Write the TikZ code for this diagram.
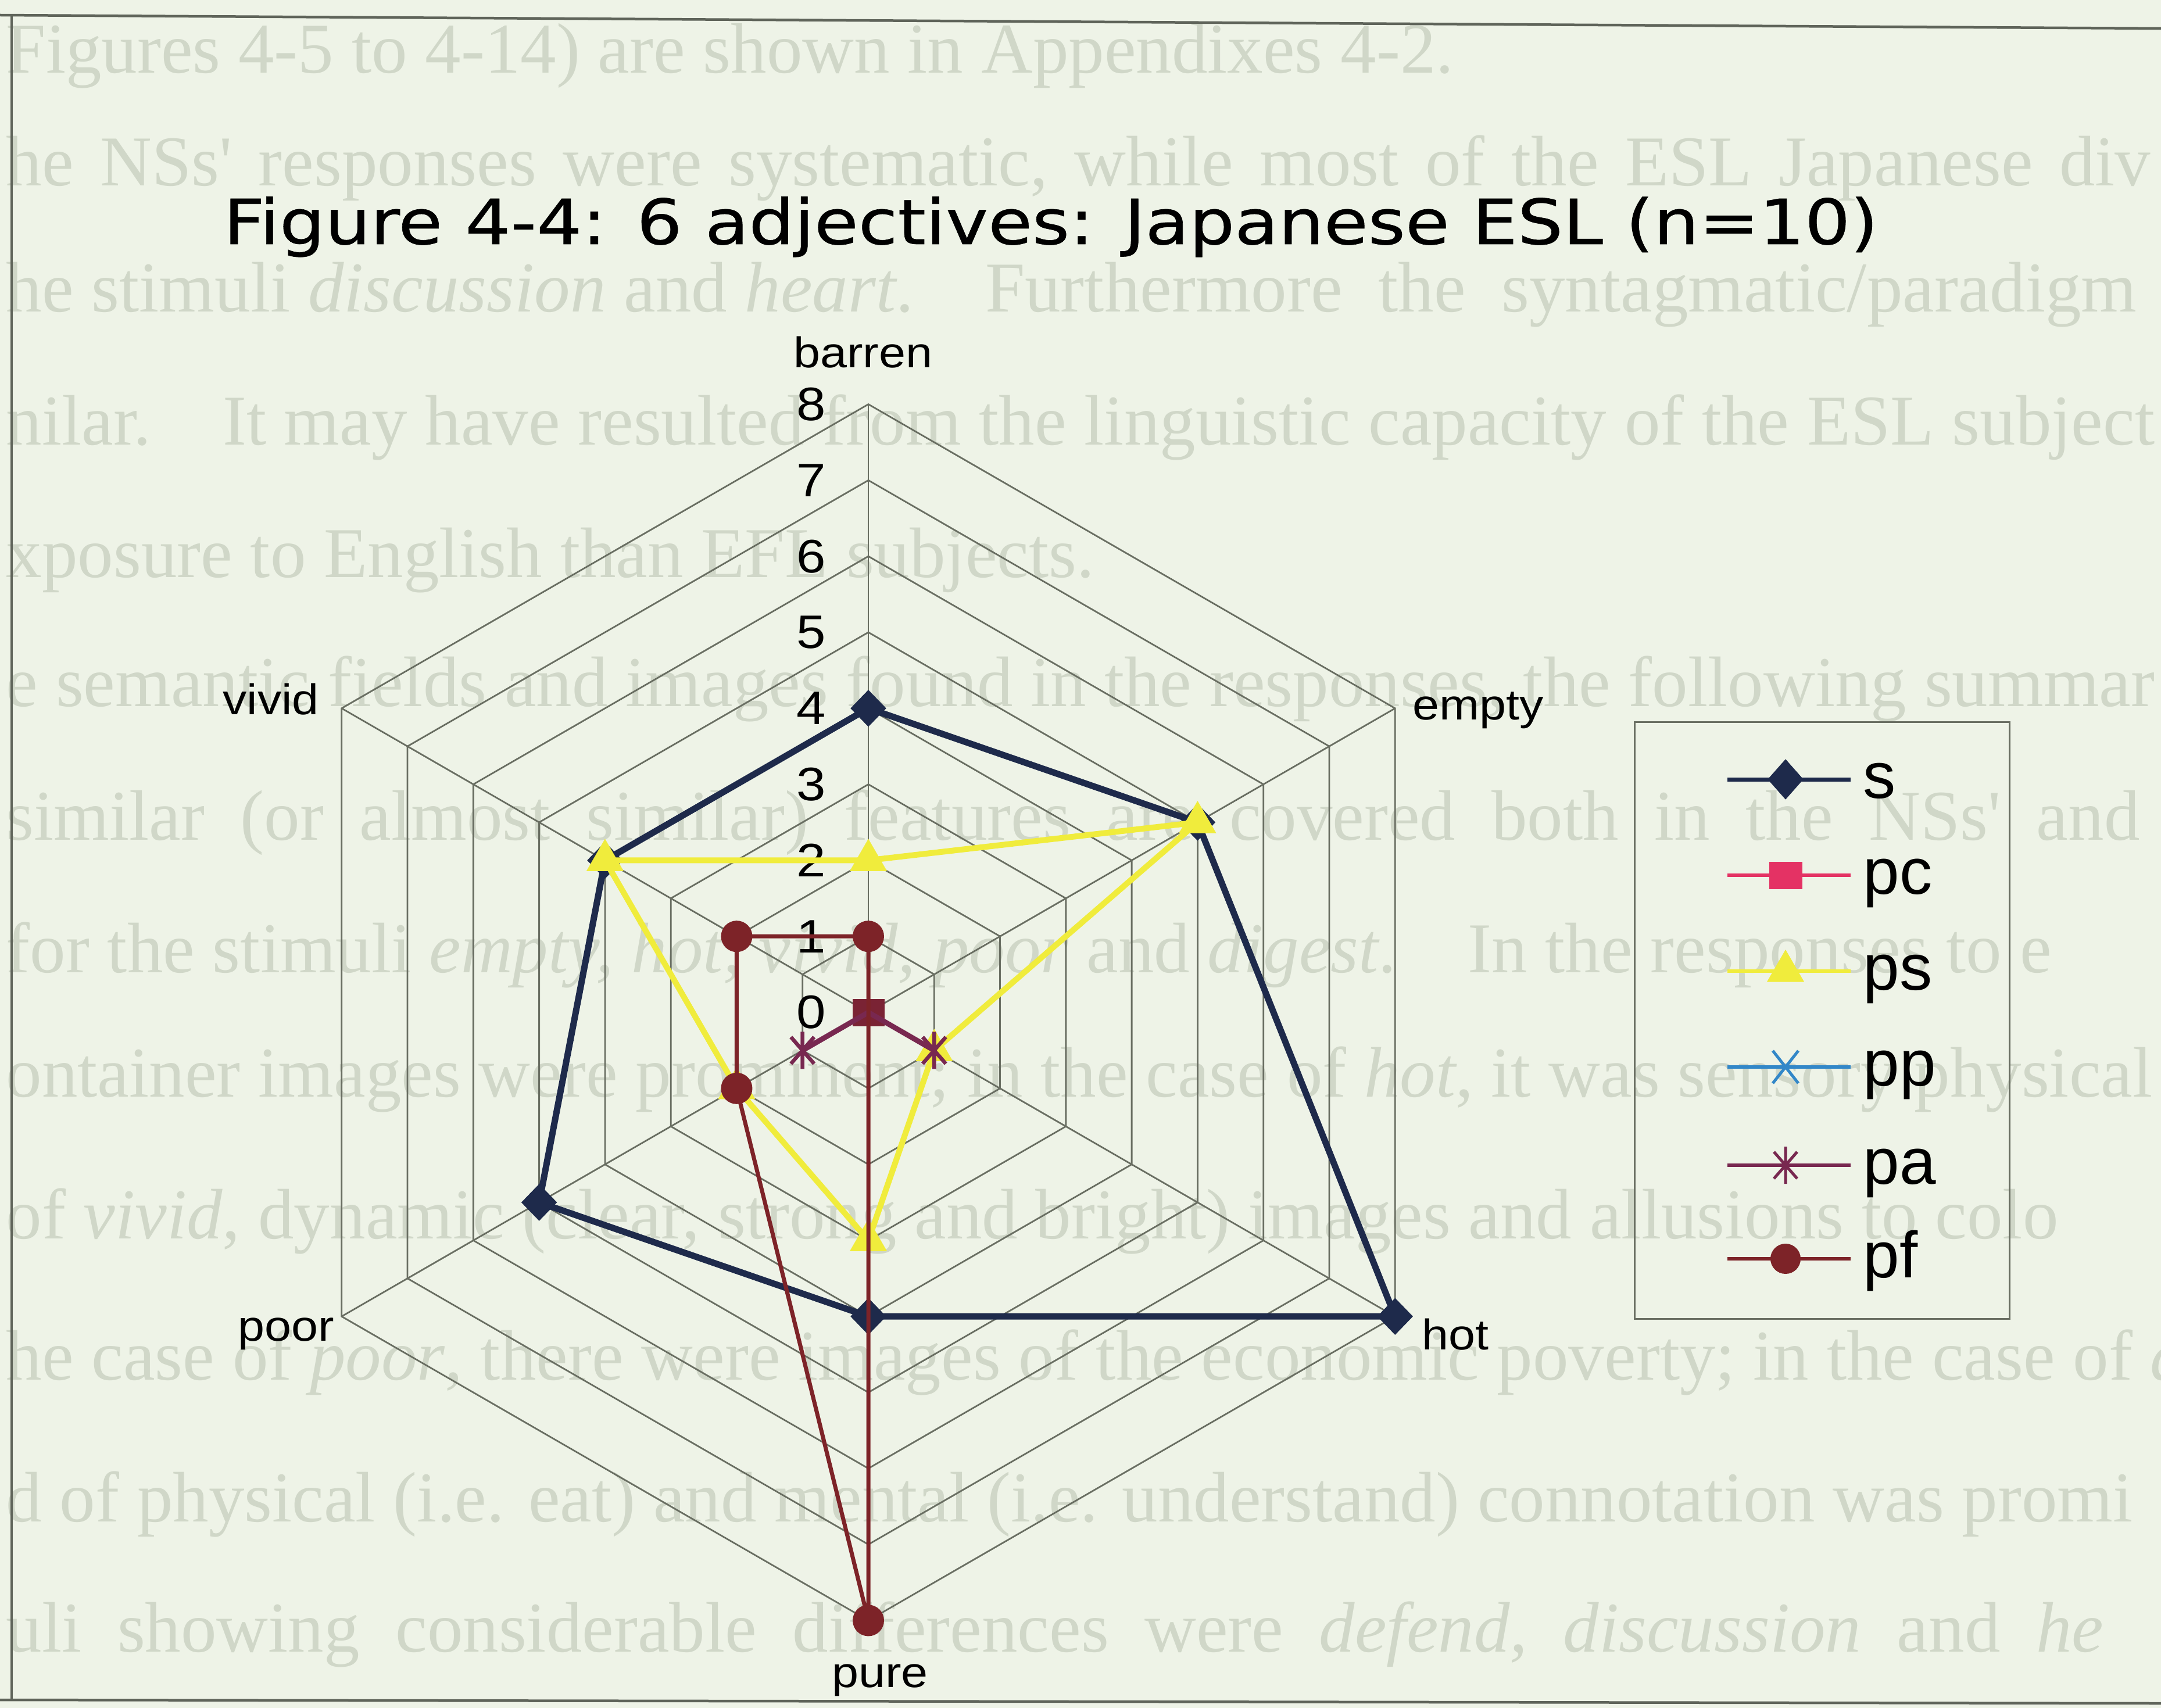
\documentclass[tikz,border=0pt]{standalone}
\usepackage{fontspec}
\setmainfont{Liberation Sans}
\newfontfamily\titlefont[FakeStretch=1.15,FakeBold=0.6]{DejaVu Sans}
\newfontfamily\axfont[FakeStretch=1.12]{Liberation Sans}
\newfontfamily\ghostfont{Liberation Serif}
\usetikzlibrary{shapes.geometric}
\definecolor{bgcol}{RGB}{238,243,231}
\definecolor{ghostcol}{RGB}{208,215,200}
\definecolor{framecol}{RGB}{95,100,90}
\definecolor{gridcol}{RGB}{105,110,98}
\definecolor{navycol}{RGB}{30,42,75}
\definecolor{yelcol}{RGB}{240,236,60}
\definecolor{pfcol}{RGB}{125,35,40}
\definecolor{pacol}{RGB}{120,40,80}
\definecolor{pccol}{RGB}{228,50,100}
\definecolor{ppcol}{RGB}{50,135,200}
\definecolor{sqcol}{RGB}{122,35,52}
\tikzset{
  ghostline/.style={anchor=base west, inner sep=0pt, text=ghostcol, font=\ghostfont\fontsize{35}{40}\selectfont},
  frameline/.style={draw=framecol, line width=0.045cm},
  gridline/.style={draw=gridcol, line width=0.028cm},
  sline/.style={draw=navycol, line width=0.11cm, line join=round},
  psline/.style={draw=yelcol, line width=0.1cm, line join=round},
  paline/.style={draw=pacol, line width=0.09cm, line cap=round},
  pfline/.style={draw=pfcol, line width=0.07cm, line join=round},
  smark/.style={diamond, fill=navycol, inner sep=0pt, minimum width=0.62cm, minimum height=0.64cm},
  psmark/.style={regular polygon, regular polygon sides=3, fill=yelcol, inner sep=0pt, minimum size=0.74cm},
  pcmark/.style={rectangle, fill=#1, inner sep=0pt, minimum width=0.55cm, minimum height=0.47cm},
  pfmark/.style={circle, fill=pfcol, inner sep=0pt, minimum size=0.54cm},
  ticklab/.style={inner sep=0pt, font=\axfont\fontsize{23}{26}\selectfont},
  axlab/.style={anchor=base, inner sep=0pt, font=\axfont\fontsize{21}{25}\selectfont},
  leglab/.style={anchor=base west, inner sep=0pt, font=\fontsize{32}{36}\selectfont},
  legbox/.style={draw=gridcol, line width=0.03cm},
  pics/astar/.style={code={
    \draw (-0.2cm,-0.23cm) -- (0.2cm,0.23cm) (-0.2cm,0.23cm) -- (0.2cm,-0.23cm) (0,-0.32cm) -- (0,0.32cm);}},
  pics/xstar/.style={code={
    \draw (-0.22cm,-0.28cm) -- (0.22cm,0.28cm) (-0.22cm,0.28cm) -- (0.22cm,-0.28cm);}},
}
\begin{document}
\begin{tikzpicture}[x=1cm,y=1cm]
\useasboundingbox (0,0) rectangle (37.18,-29.39);
\fill[bgcol] (0,0) rectangle (37.18,-29.39);

% faint text showing through from the page
\begin{scope}
\clip (0,0) rectangle (37.18,-29.39);
\node[ghostline] (g1) at (0.1,-1.26) {Figures 4-5 to 4-14) are shown in Appendixes 4-2.};
\node[ghostline] (g2) at (0.1,-3.20) {\spaceskip=0.37em he NSs' responses were systematic, while most of the ESL Japanese div};
\node[ghostline] (g3) at (0.1,-5.37) {he stimuli \textit{discussion} and \textit{heart}.\quad Furthermore\ \ the\ \ syntagmatic/paradigm};
\node[ghostline] (g4) at (0.1,-7.65) {nilar.\quad It may have resulted from the linguistic capacity of the ESL subject};
\node[ghostline] (g5) at (0.1,-9.93) {xposure to English than EFL subjects.};
\node[ghostline] (g6) at (0.1,-12.15) {e semantic fields and images found in the responses, the following summar};
\node[ghostline] (g7) at (0.1,-14.45) {similar\ \ (or\ \ almost\ \ similar)\ \ features\ \ are\ \ covered\ \ both\ \ in\ \ the\ \ NSs'\ \ and};
\node[ghostline] (g8) at (0.1,-16.73) {for the stimuli \textit{empty, hot, vivid, poor} and \textit{digest}.\quad In the responses to e};
\node[ghostline] (g9) at (0.1,-18.87) {ontainer images were prominent; in the case of \textit{hot}, it was sensory physical};
\node[ghostline] (g10) at (0.1,-21.31) {of \textit{vivid}, dynamic (clear, strong and bright) images and allusions to colo};
\node[ghostline] (g11) at (0.1,-23.74) {he case of \textit{poor}, there were images of the economic poverty; in the case of \textit{d}};
\node[ghostline] (g12) at (0.1,-26.18) {d of physical (i.e. eat) and mental (i.e. understand) connotation was promi};
\node[ghostline] (g13) at (0.1,-28.42) {uli\ \ showing\ \ considerable\ \ differences\ \ were\ \ \textit{defend,\ \ discussion}\ \ and\ \ \textit{he}};
\end{scope}

% frame
\draw[frameline] (0,-0.26) -- (37.18,-0.49);
\draw[frameline] (0.2,-0.28) -- (0.2,-29.26);
\draw[frameline] (0,-29.25) -- (37.18,-29.31);

% title
\node[anchor=base west, inner sep=0pt, font=\titlefont\fontsize{30.5}{36}\selectfont] (title) at (3.84,-4.2) {Figure 4-4: 6 adjectives: Japanese ESL (n=10)};

% radar chart
\begin{scope}[shift={(14.94,-17.42)}, x=1.308cm, y=1.308cm]
  \foreach \r in {1,...,8}
    \draw[gridline] (90:\r) -- (30:\r) -- (-30:\r) -- (-90:\r) -- (-150:\r) -- (150:\r) -- cycle;
  \foreach \a in {90,30,-30,-90,-150,150}
    \draw[gridline] (0,0) -- (\a:8);
  \foreach \k in {0,...,8}
    \node[ticklab] (t\k) at (-0.75,\k) {\k};

  \coordinate (O) at (0,0);
  % series s
  \coordinate (s1) at (90:4);
  \coordinate (s2) at (30:5);
  \coordinate (s3) at (-30:8);
  \coordinate (s4) at (-90:4);
  \coordinate (s5) at (-150:5);
  \coordinate (s6) at (150:4);
  \draw[sline] (s1) -- (s2) -- (s3) -- (s4) -- (s5) -- (s6) -- cycle;
  \foreach \i in {1,...,6} \node[smark] (sm\i) at (s\i) {};
  % series pc
  \node[pcmark=sqcol] (pcm) at (O) {};
  % series ps
  \coordinate (p1) at (90:2);
  \coordinate (p2) at (30:5);
  \coordinate (p3) at (-30:1);
  \coordinate (p4) at (-90:3);
  \coordinate (p5) at (-150:2);
  \coordinate (p6) at (150:4);
  \draw[psline] (p1) -- (p2) -- (p3) -- (p4) -- (p5) -- (p6) -- cycle;
  \foreach \i in {1,...,6} \node[psmark] (pm\i) at (p\i) {};
  % series pa
  \coordinate (a3) at (-30:1);
  \coordinate (a5) at (-150:1);
  \draw[paline] (O) -- (a3);
  \draw[paline] (O) -- (a5);
  \pic[color=pacol, line width=0.065cm] (am3) at (a3) {astar};
  \pic[color=pacol, line width=0.065cm] (am5) at (a5) {astar};
  % series pf
  \coordinate (f1) at (90:1);
  \coordinate (f4) at (-90:8);
  \coordinate (f5) at (-150:2);
  \coordinate (f6) at (150:2);
  \draw[pfline] (f1) -- (O) -- (f4) -- (f5) -- (f6) -- cycle;
  \foreach \i in {1,4,5,6} \node[pfmark] (fm\i) at (f\i) {};
\end{scope}

% category labels
\node[axlab] (lbarren) at (14.85,-6.32) {barren};
\node[axlab] (lempty) at (25.43,-12.38) {empty};
\node[axlab] (lhot) at (25.04,-23.22) {hot};
\node[axlab] (lpure) at (15.14,-29.03) {pure};
\node[axlab] (lpoor) at (4.92,-23.07) {poor};
\node[axlab] (lvivid) at (4.66,-12.29) {vivid};

% legend
\draw[legbox] (28.12,-12.42) rectangle (34.57,-22.69);
\foreach \n/\y in {s/13.41,pc/15.06,ps/16.71,pp/18.36,pa/20.05,pf/21.66} {
  \coordinate (L\n a) at (29.72,-\y);
  \coordinate (L\n b) at (31.84,-\y);
  \coordinate (L\n m) at (30.72,-\y);
}
\draw[draw=navycol, line width=0.07cm] (Lsa) -- (Lsb);
\node[smark, minimum height=0.7cm] (legs) at (Lsm) {};
\draw[draw=pccol, line width=0.06cm] (Lpca) -- (Lpcb);
\node[pcmark=pccol, minimum width=0.57cm] (legpc) at (Lpcm) {};
\draw[draw=yelcol, line width=0.06cm] (Lpsa) -- (Lpsb);
\node[psmark] (legps) at (Lpsm) {};
\draw[draw=ppcol, line width=0.06cm] (Lppa) -- (Lppb);
\pic[color=ppcol, line width=0.05cm] (legpp) at (Lppm) {xstar};
\draw[draw=pacol, line width=0.06cm] (Lpaa) -- (Lpab);
\pic[color=pacol, line width=0.05cm] (legpa) at (Lpam) {astar};
\draw[draw=pfcol, line width=0.06cm] (Lpfa) -- (Lpfb);
\node[pfmark, minimum size=0.52cm] (legpf) at (Lpfm) {};

\node[leglab] (ts) at (32.05,-13.73) {s};
\node[leglab] (tpc) at (32.05,-15.38) {pc};
\node[leglab] (tps) at (32.05,-17.03) {ps};
\node[leglab] (tpp) at (32.05,-18.68) {pp};
\node[leglab] (tpa) at (32.05,-20.37) {pa};
\node[leglab] (tpf) at (32.05,-21.98) {pf};
\end{tikzpicture}
\end{document}
